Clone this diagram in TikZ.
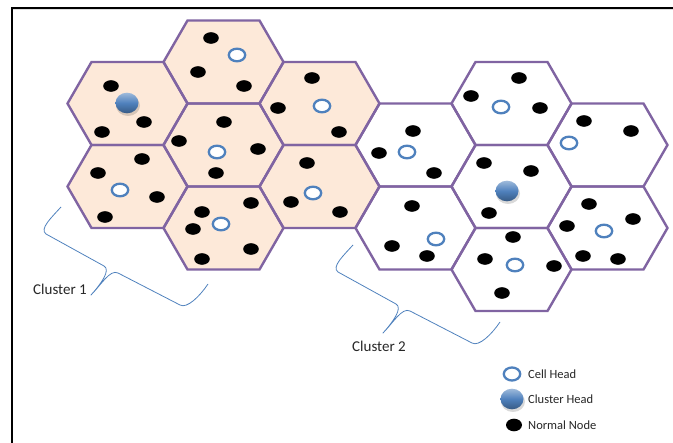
\documentclass[tikz,border=0pt]{standalone}
\usepackage{fontspec}
\setmainfont{Carlito}
\usetikzlibrary{positioning}

\definecolor{hexline}{HTML}{8064A2}
\definecolor{hexfill}{HTML}{FDE9D9}
\definecolor{headblue}{HTML}{4F81BD}

\begin{document}
\begin{tikzpicture}[x=1pt,y=-1pt,
  hexcell/.style={line width=2.4pt, draw=hexline, line join=miter},
  cellhead/.style={draw=headblue, line width=2.3pt, fill=white},
  clusterhead/.style={top color=headblue!55!white, bottom color=headblue!70!black, middle color=headblue},
  brace/.style={headblue, line width=0.8pt, line join=round},
  lbl/.style={font=\fontsize{15}{16}\selectfont, text=black!85, inner sep=0pt},
  legend/.style={font=\fontsize{12.5}{14}\selectfont, text=black!85, anchor=west, inner sep=0pt}]

\useasboundingbox (0,0) rectangle (673,443);

% frame
\draw[gray!25, line width=1pt] (13,10) -- (673,10);
\draw[line width=2pt] (12,443) -- (12,8) -- (673,8);

% cells: cluster 1 filled, cluster 2 white
\foreach \cx/\cy/\col in {127.5/103.5/hexfill, 223.5/62/hexfill, 223.5/145/hexfill,
    127.5/186.5/hexfill, 319.5/103.5/hexfill, 319.5/186.5/hexfill, 223.5/228/hexfill,
    415.5/145/white, 511.5/103.5/white, 511.5/186.5/white, 607.5/145/white,
    607.5/228/white, 415.5/228/white, 511.5/269.5/white}
  \fill[\col] (\cx-60,\cy) -- ++(24,-41.5) -- ++(72,0) -- ++(24,41.5)
    -- ++(-24,41.5) -- ++(-72,0) -- cycle;
\foreach \cx/\cy in {127.5/103.5, 223.5/62, 223.5/145, 127.5/186.5, 319.5/103.5,
    319.5/186.5, 223.5/228, 415.5/145, 511.5/103.5, 511.5/186.5, 607.5/145,
    607.5/228, 415.5/228, 511.5/269.5}
  \draw[hexcell] (\cx-60,\cy) -- ++(24,-41.5) -- ++(72,0) -- ++(24,41.5)
    -- ++(-24,41.5) -- ++(-72,0) -- cycle;

% normal nodes
\foreach \p in {(111,86), (144,122), (102,132),
    (211,38), (198,72), (244,86),
    (224,122), (179,141), (258,149), (216,173),
    (142,159), (98,173), (157,197), (105,217),
    (312,78), (278,108), (339,132),
    (307,163), (291,202), (340,212),
    (251,203), (202,212), (193,229), (251,249), (202,259),
    (413,131), (379,153), (434,173),
    (519,78), (471,96), (540,108),
    (584,121), (631,131),
    (484,163), (531,171), (489,213),
    (589,204), (633,219), (567,226), (583,256), (618,259),
    (412,206), (392,246), (427,256),
    (513,237), (485,259), (554,266), (502,293)}
  \fill \p ellipse (7.8pt and 5.8pt);

% cell heads
\foreach \p in {(237,55), (217,152), (120,190), (322,106), (313,193), (221,224),
    (407,152), (501,107), (569,143), (604,231), (436,239), (515,265)}
  \draw[cellhead] \p ellipse (8.2pt and 6.3pt);

% cluster heads
\foreach \p in {(127,103), (507,191)} {
  \fill[black, opacity=0.15] \p ++(1,2.5) ellipse (12pt and 10.5pt);
  \shade[clusterhead] \p ellipse (11.5pt and 10.3pt);
}

% braces
\foreach \dx/\dy in {0/0, 292/38}
  \draw[brace, shift={(\dx,\dy)}] (61,207) .. controls (52,217) and (39,229) .. (46,234)
    -- (104,266) .. controls (111,270) and (101,284) .. (91,295)
    .. controls (101,285) and (110,269) .. (118,273)
    -- (180,305) .. controls (187,309) and (200,296) .. (208,284);

\node[lbl] (cluster1) at (60,289.5) {Cluster 1};
\node[lbl] (cluster2) at (379,346) {Cluster 2};

% legend
\coordinate (keycell) at (512,374);
\coordinate (keyhead) at (512,399);
\coordinate (keynode) at (514,425);
\draw[cellhead] (keycell) ellipse (8.2pt and 6.5pt);
\fill[black, opacity=0.15] (keyhead) ++(1,2.5) ellipse (12pt and 10.5pt);
\shade[clusterhead] (keyhead) ellipse (11.5pt and 10.3pt);
\fill (keynode) ellipse (8pt and 6.3pt);
\node[legend, right=16pt of keycell] (celltxt) {Cell Head};
\node[legend, right=16pt of keyhead] (headtxt) {Cluster Head};
\node[legend, right=14pt of keynode] (nodetxt) {Normal Node};
\end{tikzpicture}
\end{document}
